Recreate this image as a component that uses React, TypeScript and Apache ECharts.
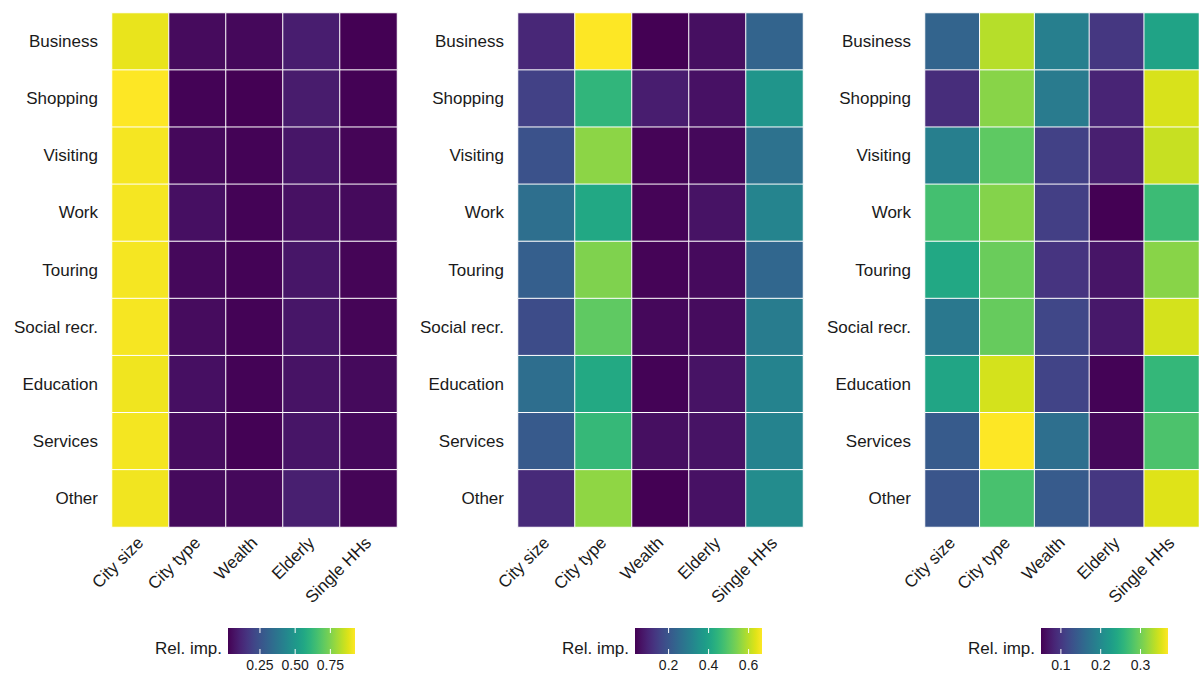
import React, { useEffect, useRef } from "react";
import * as echarts from "echarts";

// Trip purposes (rows, top to bottom) and explanatory features (columns)
const PURPOSES = [
  "Business",
  "Shopping",
  "Visiting",
  "Work",
  "Touring",
  "Social recr.",
  "Education",
  "Services",
  "Other",
];
const FEATURES = ["City size", "City type", "Wealth", "Elderly", "Single HHs"];

// Relative importance per purpose, columns in FEATURES order
const IMPORTANCE_A = [
  [0.895, 0.048, 0.041, 0.095, 0.023],
  [0.925, 0.027, 0.023, 0.091, 0.026],
  [0.913, 0.041, 0.027, 0.077, 0.032],
  [0.913, 0.059, 0.027, 0.064, 0.045],
  [0.913, 0.041, 0.027, 0.077, 0.032],
  [0.915, 0.05, 0.027, 0.077, 0.032],
  [0.905, 0.059, 0.027, 0.068, 0.045],
  [0.912, 0.05, 0.026, 0.073, 0.041],
  [0.907, 0.045, 0.041, 0.1, 0.032],
];
const IMPORTANCE_B = [
  [0.102, 0.667, 0.032, 0.057, 0.235],
  [0.153, 0.448, 0.083, 0.061, 0.362],
  [0.191, 0.557, 0.038, 0.045, 0.27],
  [0.261, 0.413, 0.038, 0.064, 0.318],
  [0.223, 0.545, 0.038, 0.048, 0.242],
  [0.178, 0.509, 0.045, 0.051, 0.296],
  [0.259, 0.415, 0.035, 0.064, 0.315],
  [0.21, 0.455, 0.057, 0.064, 0.315],
  [0.108, 0.56, 0.032, 0.061, 0.337],
];
const IMPORTANCE_C = [
  [0.152, 0.334, 0.187, 0.101, 0.235],
  [0.091, 0.312, 0.181, 0.082, 0.35],
  [0.187, 0.289, 0.111, 0.077, 0.342],
  [0.273, 0.31, 0.109, 0.05, 0.267],
  [0.241, 0.296, 0.098, 0.068, 0.312],
  [0.178, 0.294, 0.117, 0.071, 0.348],
  [0.238, 0.348, 0.114, 0.052, 0.261],
  [0.141, 0.369, 0.165, 0.056, 0.278],
  [0.133, 0.276, 0.141, 0.101, 0.353],
];

// Colour bar break values
const TICKS_A = [0.25, 0.5, 0.75];
const TICKS_B = [0.2, 0.4, 0.6];
const TICKS_C = [0.1, 0.2, 0.3];
const TICK_DIGITS = [2, 1, 1];

const VIRIDIS = [
  "#440154", "#471365", "#482475", "#463480", "#414487", "#3b528b",
  "#355f8d", "#2f6c8e", "#2a788e", "#25848e", "#21918c", "#1e9c89",
  "#22a884", "#2fb47c", "#44bf70", "#5ec962", "#7ad151", "#9bd93c",
  "#bddf26", "#dfe318", "#fde725",
];

const FONT = "'Liberation Sans', Arial, Helvetica, sans-serif";
const TEXT_COLOR = "#1a1a1a";
const LABEL_SIZE = 17;

// Layout
const GRID_LEFT = [112, 518, 925];
const GRID_TOP = 13;
const GRID_W = 285;
const GRID_H = 514;
const BAR_LEFT = [228, 635, 1041];
const BAR_TOP = 628;
const BAR_W = 127;
const BAR_H = 26;

export default function App() {
  const ref = useRef<HTMLDivElement>(null);

  useEffect(() => {
    document.body.style.margin = "0";
    if (!ref.current) return;
    const chart = echarts.init(ref.current, null, { renderer: "svg" });

    const panels = [IMPORTANCE_A, IMPORTANCE_B, IMPORTANCE_C];
    const ticks = [TICKS_A, TICKS_B, TICKS_C];

    const grids: any[] = [];
    const xAxes: any[] = [];
    const yAxes: any[] = [];
    const series: any[] = [];
    const visualMaps: any[] = [];
    const graphics: any[] = [];

    panels.forEach((matrix, p) => {
      const flat = matrix.flat();
      const vmin = Math.min(...flat);
      const vmax = Math.max(...flat);

      grids.push({ left: GRID_LEFT[p], top: GRID_TOP, width: GRID_W, height: GRID_H });
      xAxes.push({
        type: "category",
        gridIndex: p,
        data: FEATURES,
        axisLine: { show: false },
        axisTick: { show: false },
        splitLine: { show: false },
        axisLabel: {
          interval: 0,
          rotate: 45,
          margin: 13,
          fontSize: LABEL_SIZE,
          fontFamily: FONT,
          color: TEXT_COLOR,
        },
      });
      yAxes.push({
        type: "category",
        gridIndex: p,
        inverse: true,
        data: PURPOSES,
        axisLine: { show: false },
        axisTick: { show: false },
        splitLine: { show: false },
        axisLabel: {
          margin: 14,
          fontSize: LABEL_SIZE,
          fontFamily: FONT,
          color: TEXT_COLOR,
        },
      });

      const data: any[] = [];
      matrix.forEach((row, r) => row.forEach((v, c) => data.push([c, r, v])));
      series.push({
        type: "heatmap",
        xAxisIndex: p,
        yAxisIndex: p,
        data,
        itemStyle: { borderColor: "#ffffff", borderWidth: 1 },
        emphasis: { disabled: true },
      });
      visualMaps.push({
        type: "continuous",
        show: false,
        seriesIndex: p,
        dimension: 2,
        min: vmin,
        max: vmax,
        inRange: { color: VIRIDIS },
      });

      // Colour bar
      const stops = VIRIDIS.map((c, i) => ({ offset: i / (VIRIDIS.length - 1), color: c }));
      graphics.push({
        type: "rect",
        shape: { x: BAR_LEFT[p], y: BAR_TOP, width: BAR_W, height: BAR_H },
        style: { fill: new echarts.graphic.LinearGradient(0, 0, 1, 0, stops) },
        silent: true,
      });
      ticks[p].forEach((t) => {
        const x = BAR_LEFT[p] + ((t - vmin) / (vmax - vmin)) * BAR_W;
        graphics.push({
          type: "line",
          shape: { x1: x, y1: BAR_TOP, x2: x, y2: BAR_TOP + 5 },
          style: { stroke: "#ffffff", lineWidth: 1 },
          silent: true,
        });
        graphics.push({
          type: "line",
          shape: { x1: x, y1: BAR_TOP + BAR_H - 5, x2: x, y2: BAR_TOP + BAR_H },
          style: { stroke: "#ffffff", lineWidth: 1 },
          silent: true,
        });
        graphics.push({
          type: "text",
          x,
          y: BAR_TOP + BAR_H + 11,
          style: {
            text: t.toFixed(TICK_DIGITS[p]),
            fontSize: 14,
            fontFamily: FONT,
            fill: TEXT_COLOR,
            align: "center",
            verticalAlign: "middle",
          },
          silent: true,
        });
      });
      graphics.push({
        type: "text",
        x: BAR_LEFT[p] - 6,
        y: BAR_TOP + 20,
        style: {
          text: "Rel. imp.",
          fontSize: LABEL_SIZE,
          fontFamily: FONT,
          fill: TEXT_COLOR,
          align: "right",
          verticalAlign: "middle",
        },
        silent: true,
      });
    });

    chart.setOption({
      animation: false,
      backgroundColor: "#ffffff",
      grid: grids,
      xAxis: xAxes,
      yAxis: yAxes,
      visualMap: visualMaps,
      series,
      graphic: graphics,
    });

    return () => chart.dispose();
  }, []);

  return (
    <div
      ref={ref}
      style={{ width: 1199, height: 673, overflow: "hidden", background: "#fff" }}
    />
  );
}
